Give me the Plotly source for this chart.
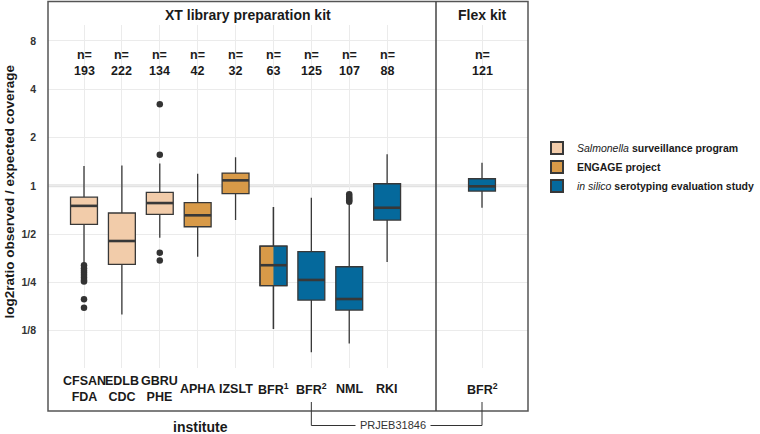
import numpy as np
import plotly.graph_objects as go

# ---------------- data ----------------
institutes = ["CFSAN<br>FDA", "EDLB<br>CDC", "GBRU<br>PHE", "APHA", "IZSLT",
              "BFR<sup>1</sup>", "BFR<sup>2</sup>", "NML", "RKI"]
n_counts = [193, 222, 134, 42, 32, 63, 125, 107, 88]
study = ["surv", "surv", "surv", "engage", "engage", "split", "insilico", "insilico", "insilico"]
q1 = [0.575, 0.324, 0.664, 0.556, 0.893, 0.239, 0.194, 0.168, 0.612]
median = [0.750, 0.453, 0.781, 0.655, 1.082, 0.320, 0.259, 0.197, 0.730]
q3 = [0.850, 0.677, 0.911, 0.785, 1.200, 0.421, 0.389, 0.313, 1.030]
lower = [0.326, 0.158, 0.475, 0.361, 0.612, 0.128, 0.0917, 0.104, 0.335]
upper = [1.330, 1.340, 1.380, 1.190, 1.505, 0.738, 0.843, 0.781, 1.571]
outliers = {
    0: [0.320, 0.306, 0.296, 0.287, 0.278, 0.268, 0.259, 0.253, 0.196, 0.174],
    2: [3.22, 1.56, 0.383, 0.343],
    7: [0.885, 0.857, 0.833, 0.812, 0.796],
}

flex_labels = ["BFR<sup>2</sup>"]
flex_n = [121]
flex_q1 = [0.928]
flex_median = [0.993]
flex_q3 = [1.107]
flex_lower = [0.730]
flex_upper = [1.393]

y_tickvals = [0.125, 0.25, 0.5, 1, 2, 4, 8]
y_ticktext = ["1/8", "1/4", "1/2", "1", "2", "4", "8"]

study_names = {
    "surv": "<i>Salmonella</i> <b>surveillance program</b>",
    "engage": "<b>ENGAGE project</b>",
    "insilico": "<i>in silico</i> <b>serotyping evaluation study</b>",
}
colors = {"surv": "#F2CCAA", "engage": "#D89A48", "insilico": "#05699C"}
outline = "#383838"
FONT = "Liberation Sans"

# ---------------- geometry (layout) ----------------
W, H = 760, 434
ML, MR, MT, MB = 48, 232, 25, 66
PW, PH = W - ML - MR, H - MT - MB
split = 388 / PW
xr1 = [-0.95, 9.29]
xr2 = [-1.215, 1.215]
yr = [np.log10(2 ** -3.772), np.log10(2 ** 3.33)]
BW = 0.71


def px(xp):
    return (xp - ML) / PW


def py(yp):
    return (H - MB - yp) / PH


pos = list(range(len(institutes)))
fig = go.Figure()


def box_trace(idx, key, xaxis="x", showlegend=True, name=None, data=None):
    d = data
    return go.Box(
        x=[d["pos"][i] for i in idx], q1=[d["q1"][i] for i in idx],
        median=[d["median"][i] for i in idx], q3=[d["q3"][i] for i in idx],
        lowerfence=[d["lower"][i] for i in idx], upperfence=[d["upper"][i] for i in idx],
        fillcolor=colors[key], line=dict(color=outline, width=1.3),
        whiskerwidth=0, width=BW, boxpoints=False, xaxis=xaxis, yaxis="y",
        name=name or study_names[key], legendgroup=key, showlegend=showlegend,
        hoverinfo="skip",
    )


main = dict(pos=pos, q1=q1, median=median, q3=q3, lower=lower, upper=upper)
flex = dict(pos=[0], q1=flex_q1, median=flex_median, q3=flex_q3, lower=flex_lower, upper=flex_upper)

for key in ["surv", "engage", "insilico"]:
    idx = [i for i, s in enumerate(study) if s == key or (s == "split" and key == "engage")]
    fig.add_trace(box_trace(idx, key, data=main))

# split box (BFR1): blue right half over orange full box, then outline
si = study.index("split")
fig.add_trace(go.Box(
    x=[pos[si] + BW / 4], q1=[q1[si]], median=[median[si]], q3=[q3[si]],
    lowerfence=[q1[si]], upperfence=[q3[si]], fillcolor=colors["insilico"],
    line=dict(color=colors["insilico"], width=0), width=BW / 2, whiskerwidth=0,
    boxpoints=False, showlegend=False, hoverinfo="skip"))
fig.add_trace(go.Box(
    x=[pos[si]], q1=[q1[si]], median=[median[si]], q3=[q3[si]],
    lowerfence=[lower[si]], upperfence=[upper[si]], fillcolor="rgba(0,0,0,0)",
    line=dict(color=outline, width=1.3), width=BW, whiskerwidth=0,
    boxpoints=False, showlegend=False, hoverinfo="skip"))

fig.add_trace(box_trace([0], "insilico", xaxis="x2", showlegend=False, data=flex))

# thick median lines
mx, my = [], []
for p, m in zip(pos, median):
    mx += [p - BW / 2, p + BW / 2, None]
    my += [m, m, None]
fig.add_trace(go.Scatter(x=mx, y=my, mode="lines", line=dict(color=outline, width=2.6),
                         showlegend=False, hoverinfo="skip"))
fig.add_trace(go.Scatter(x=[-BW / 2, BW / 2], y=[flex_median[0]] * 2, mode="lines",
                         line=dict(color=outline, width=2.6), xaxis="x2",
                         showlegend=False, hoverinfo="skip"))

# outliers
ox, oy = [], []
for i, vals in outliers.items():
    ox += [pos[i]] * len(vals)
    oy += vals
fig.add_trace(go.Scatter(x=ox, y=oy, mode="markers",
                         marker=dict(color="#333333", size=6.5),
                         showlegend=False, hoverinfo="skip"))

# ---------------- annotations ----------------
ann = []
tf = dict(family=FONT, size=12.5, color="#1a1a1a")
for p, lab, n in zip(pos, institutes, n_counts):
    ann.append(dict(x=p, y=py(389), xref="x", yref="paper", text=f"<b>{lab}</b>",
                    showarrow=False, font=tf, xanchor="center", yanchor="middle"))
    ann.append(dict(x=p, y=py(62.5), xref="x", yref="paper", text=f"<b>n=<br>{n}</b>",
                    showarrow=False, font=tf, xanchor="center", yanchor="middle"))
for p, lab, n in zip([0], flex_labels, flex_n):
    ann.append(dict(x=p, y=py(389), xref="x2", yref="paper", text=f"<b>{lab}</b>",
                    showarrow=False, font=tf, xanchor="center", yanchor="middle"))
    ann.append(dict(x=p, y=py(62.5), xref="x2", yref="paper", text=f"<b>n=<br>{n}</b>",
                    showarrow=False, font=tf, xanchor="center", yanchor="middle"))

ann.append(dict(x=px(248), y=py(15), xref="paper", yref="paper",
                text="<b>XT library preparation kit</b>", showarrow=False,
                font=dict(family=FONT, size=14, color="#1a1a1a"),
                xanchor="center", yanchor="middle"))
ann.append(dict(x=px(482.7), y=py(15), xref="paper", yref="paper",
                text="<b>Flex kit</b>", showarrow=False,
                font=dict(family=FONT, size=14, color="#1a1a1a"),
                xanchor="center", yanchor="middle"))
ann.append(dict(x=px(200), y=py(427), xref="paper", yref="paper",
                text="<b>institute</b>", showarrow=False,
                font=dict(family=FONT, size=14, color="#1a1a1a"),
                xanchor="center", yanchor="middle"))
ann.append(dict(x=px(9), y=py(191.5), xref="paper", yref="paper",
                text="<b>log2ratio observed / expected coverage</b>", showarrow=False,
                textangle=-90, font=dict(family=FONT, size=13.5, color="#1a1a1a"),
                xanchor="center", yanchor="middle"))

# bracket PRJEB31846
bx1 = split * (pos[6] - xr1[0]) / (xr1[1] - xr1[0])
bx2 = split + (1 - split) * (0 - xr2[0]) / (xr2[1] - xr2[0])
ann.append(dict(x=(bx1 + bx2) / 2 - 3.5 / PW, y=py(425.5), xref="paper", yref="paper",
                text="PRJEB31846", showarrow=False, bgcolor="white", borderpad=4,
                font=dict(family=FONT, size=11, color="#333333"),
                xanchor="center", yanchor="middle"))

shapes = [
    # reference line at ratio 1
    dict(type="line", xref="paper", yref="y", x0=0, x1=1, y0=1, y1=1,
         line=dict(color="#e2e2e2", width=3), layer="below"),
    # outer frame
    dict(type="rect", xref="paper", yref="paper", x0=0, x1=1, y0=py(411), y1=py(1.5),
         line=dict(color="#555555", width=1.5), layer="above"),
    # panel divider
    dict(type="line", xref="paper", yref="paper", x0=split, x1=split, y0=py(411), y1=py(1.5),
         line=dict(color="#444444", width=1.5), layer="above"),
    # bracket
    dict(type="line", xref="x", yref="paper", x0=pos[6], x1=pos[6], y0=py(402), y1=py(425.5),
         line=dict(color="#333333", width=1)),
    dict(type="line", xref="x2", yref="paper", x0=0, x1=0, y0=py(402), y1=py(425.5),
         line=dict(color="#333333", width=1)),
    dict(type="line", xref="paper", yref="paper", x0=bx1, x1=bx2, y0=py(425.5), y1=py(425.5),
         line=dict(color="#333333", width=1)),
]

grid = "#ebebeb"
fig.update_layout(
    width=W, height=H, margin=dict(l=ML, r=MR, t=MT, b=MB, autoexpand=False),
    paper_bgcolor="white", plot_bgcolor="white",
    font=dict(family=FONT, color="#1a1a1a"),
    boxmode="overlay",
    xaxis=dict(domain=[0, split], range=xr1, tickvals=pos, showticklabels=False,
               showgrid=True, gridcolor=grid, gridwidth=1, zeroline=False, ticks="",
               showline=False, fixedrange=True),
    xaxis2=dict(domain=[split, 1], range=xr2, tickvals=[0], showticklabels=False,
                showgrid=True, gridcolor=grid, gridwidth=1, zeroline=False, ticks="",
                showline=False, anchor="y", fixedrange=True),
    yaxis=dict(type="log", range=yr, tickvals=y_tickvals, ticktext=y_ticktext,
               showgrid=True, gridcolor=grid, gridwidth=1, zeroline=False, ticks="",
               tickfont=dict(family=FONT, size=10.5, color="#333333", weight="bold"),
               ticklabelstandoff=11, showline=False, fixedrange=True),
    legend=dict(xref="container", yref="container", x=537 / W, y=(H - 167) / H,
                xanchor="left", yanchor="middle", tracegroupgap=0,
                font=dict(family=FONT, size=10.5, color="#1a1a1a"),
                bgcolor="rgba(0,0,0,0)", itemsizing="constant"),
    annotations=ann, shapes=shapes, showlegend=True,
)

fig.write_html("out.html", config={"displayModeBar": False},
               post_script="document.body.style.margin='0';")
